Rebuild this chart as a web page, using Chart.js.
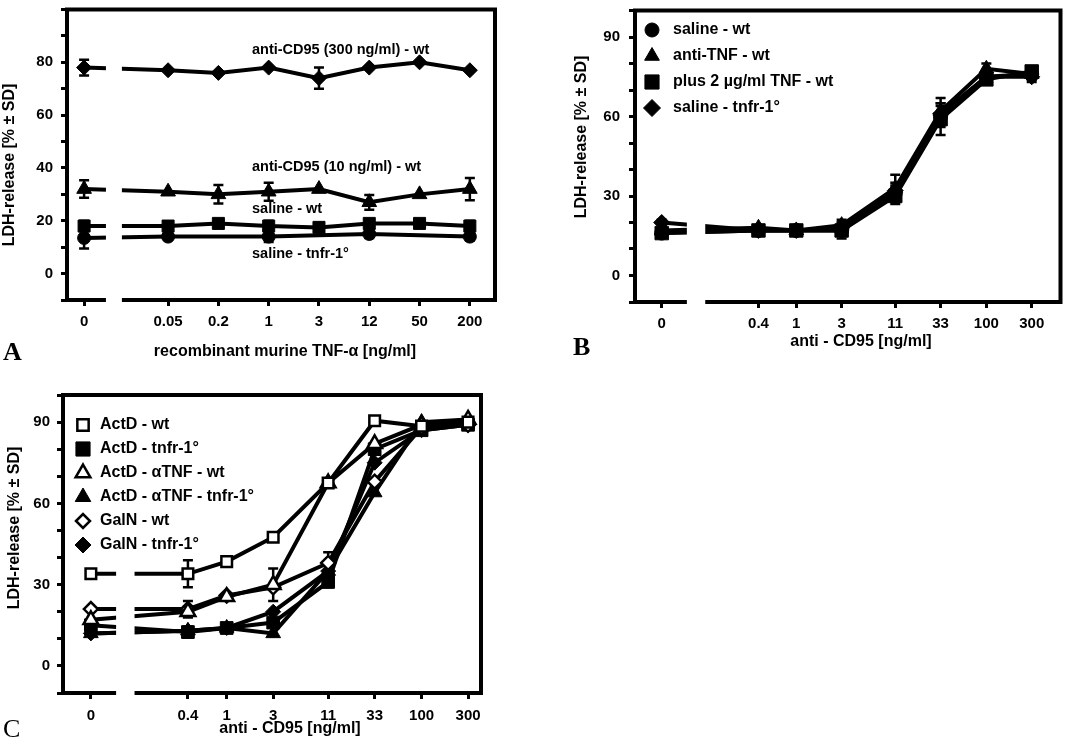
<!DOCTYPE html>
<html>
<head>
<meta charset="utf-8">
<script src="https://cdn.jsdelivr.net/npm/chart.js@4.4.1/dist/chart.umd.min.js"></script>
<style>
  body { margin: 0; background: #fff; width: 1071px; height: 747px; position: relative; overflow: hidden; }
  canvas { position: absolute; }
  #cA { left: 0; top: 0; }
  #cB { left: 540px; top: 0; }
  #cC { left: 0; top: 380px; }
</style>
</head>
<body>
<canvas id="cA" width="530" height="370"></canvas>
<canvas id="cB" width="531" height="370"></canvas>
<canvas id="cC" width="540" height="367"></canvas>
<script>
// ---- data ----
// panel A: x = recombinant murine TNF-alpha [ng/ml]
const dosesA = ['0', '0.05', '0.2', '1', '3', '12', '50', '200'];
const aCd95_300 = [78, 77, 76, 78, 74, 78, 80, 77];
const aCd95_300Sd = [3, 0, 0, 0, 4, 0, 0, 0];
const aCd95_10 = [32, 31, 30, 31, 32, 27, 30, 32];
const aCd95_10Sd = [3.3, 0, 3.5, 3.4, 0, 2.8, 0, 4.2];
const aSalineWt = [18, 18, 19, 18, 17.5, 19, 19, 18];
const aSalineWtSd = [2, 1.5, 0, 2, 0, 1.5, 0, 2];
const aSalineTnfr = [13.5, 14, null, 14, null, 15, null, 14];
const aSalineTnfrSd = [4, 1, 0, 2, 0, 1.5, 0, 1.5];

// panels B and C: x = anti-CD95 [ng/ml]
const dosesCD95 = [0, 0.4, 1, 3, 11, 33, 100, 300];
const cd95Labels = ['0', '0.4', '1', '3', '11', '33', '100', '300'];

const bSalineWt = [16, 17, 17, 17, 31, 60, 75, 76];
const bSalineWtSd = [1, 1, 1, 2, 3, 4, 2, 2];
const bAntiTnf = [17, 18, 17, 19, 33, 62, 78, 76];
const bAntiTnfSd = [1, 1, 1, 2, 5, 5, 2, 2];
const bPlusTnf = [16, 17, 17, 17, 30, 59, 74, 77];
const bPlusTnfSd = [1, 1, 1, 3, 3, 6, 2, 2];
const bSalineTnfr = [20, 17, 17, 18, 32, 61, 75, 75];
const bSalineTnfrSd = [1, 1, 1, 2, 3, 4, 2, 2];

const cActdWt = [34, 34, 38.5, 47.5, 67.5, 90.5, 88.5, 90];
const cActdWtSd = [0, 5, 0, 0, 0, 0, 0, 0];
const cActdTnfr = [15, 12.5, 14, 16, 31, 80, 87, 89];
const cActdTnfrSd = [2, 2, 0, 0, 2, 0, 0, 0];
const cAtnfWt = [17, 20, 25.5, 30, 67.5, 82, 89, 91];
const cAtnfWtSd = [0, 2, 0, 6, 0, 0, 0, 0];
const cAtnfTnfr = [12, 13, 14, 12, 35, 64, 90, 91];
const cAtnfTnfrSd = [0, 0, 0, 0, 0, 0, 0, 0];
const cGalnWt = [21, 21, 26, 29, 38, 68, 88, 89];
const cGalnWtSd = [0, 3, 0, 0, 4, 0, 0, 0];
const cGalnTnfr = [12, 13, 14, 20, 35, 75, 87, 89];
const cGalnTnfrSd = [0, 0, 0, 0, 0, 0, 0, 0];

// ---- axis layout (broken axis between 0 and first dose) ----
const ZERO_GAP_A = 1.67;      // slots between "0" and "0.05"
const ZERO_POS_CD95_B = -1.416; // log10 position used for dose 0
const ZERO_POS_CD95_C = -1.394;
const BREAK = [0.26, 0.45];   // fraction of the way from 0 to first dose

const xA = dosesA.map((d, i) => i === 0 ? 0 : ZERO_GAP_A + i - 1);
const xB = dosesCD95.map(d => d === 0 ? ZERO_POS_CD95_B : Math.log10(d));
const xC = dosesCD95.map(d => d === 0 ? ZERO_POS_CD95_C : Math.log10(d));

const FONT = '"Liberation Sans", Arial, Helvetica, sans-serif';
const tickFont = { family: FONT, size: 15, weight: 'bold' };
const gridOpts = { drawOnChartArea: false, drawTicks: true, tickLength: 6, tickWidth: 3, tickColor: '#000', color: '#000' };

function ser(xs, vals, sd, style, r, open) {
  return {
    data: vals.map((v, i) => ({ x: xs[i], y: v })),
    sd: sd,
    borderColor: '#000',
    borderWidth: 4,
    pointStyle: style,
    pointRadius: r,
    pointHoverRadius: r,
    pointBackgroundColor: open ? '#fff' : '#000',
    pointBorderColor: '#000',
    pointBorderWidth: open ? 2.5 : 1,
    spanGaps: true,
    fill: false,
    tension: 0
  };
}

function marker(ctx, style, r, x, y, open) {
  ctx.save();
  ctx.fillStyle = open ? '#fff' : '#000';
  ctx.strokeStyle = '#000';
  ctx.lineWidth = open ? 2.5 : 1;
  Chart.helpers.drawPoint(ctx, { pointStyle: style, radius: r, borderWidth: ctx.lineWidth, rotation: 0 }, x, y);
  ctx.restore();
}

function text(ctx, t, x, y, font, align, rot) {
  ctx.save();
  ctx.fillStyle = '#000';
  ctx.font = font;
  ctx.textAlign = align || 'left';
  ctx.textBaseline = 'middle';
  ctx.translate(x, y);
  if (rot) ctx.rotate(rot);
  ctx.fillText(t, 0, 0);
  ctx.restore();
}

function deco(o) {
  return {
    id: 'deco',
    beforeDatasetsDraw(chart) {
      const ctx = chart.ctx, ys = chart.scales.y;
      ctx.save();
      ctx.strokeStyle = '#000';
      ctx.lineWidth = 2.5;
      chart.data.datasets.forEach((ds, di) => {
        const meta = chart.getDatasetMeta(di);
        ds.sd.forEach((e, i) => {
          const v = ds.data[i].y;
          if (!e || v == null) return;
          const px = meta.data[i].x;
          const t = ys.getPixelForValue(v + e), b = ys.getPixelForValue(v - e);
          ctx.beginPath();
          ctx.moveTo(px, t); ctx.lineTo(px, b);
          ctx.moveTo(px - 5, t); ctx.lineTo(px + 5, t);
          ctx.moveTo(px - 5, b); ctx.lineTo(px + 5, b);
          ctx.stroke();
        });
      });
      ctx.restore();
    },
    afterDatasetsDraw(chart) {
      const ctx = chart.ctx, a = chart.chartArea, xs = chart.scales.x;
      const p0 = xs.getPixelForValue(o.xs[0]), p1 = xs.getPixelForValue(o.xs[1]);
      const b0 = p0 + BREAK[0] * (p1 - p0), b1 = p0 + BREAK[1] * (p1 - p0);
      ctx.save();
      ctx.fillStyle = '#fff';
      ctx.fillRect(b0, a.top, b1 - b0, a.bottom - a.top + 4);
      ctx.strokeStyle = '#000';
      ctx.lineWidth = 4;
      ctx.lineJoin = 'miter';
      ctx.beginPath();
      ctx.moveTo(b0, a.bottom);
      ctx.lineTo(a.left, a.bottom);
      ctx.lineTo(a.left, a.top);
      ctx.lineTo(a.right, a.top);
      ctx.lineTo(a.right, a.bottom);
      ctx.lineTo(b1, a.bottom);
      ctx.stroke();
      ctx.restore();
    },
    afterDraw(chart) {
      const ctx = chart.ctx;
      const titleFont = 'bold 16px ' + FONT;
      text(ctx, o.xTitle[0], o.xTitle[1], o.xTitle[2], titleFont, 'center');
      text(ctx, 'LDH-release [% \u00b1 SD]', o.yTitle[0], o.yTitle[1], titleFont, 'center', -Math.PI / 2);
      text(ctx, o.letter[0], o.letter[1], o.letter[2], o.letter[3], 'left');
      (o.notes || []).forEach(n => text(ctx, n[0], n[1], n[2], 'bold 14.5px ' + FONT, 'left'));
      if (o.legend) {
        const L = o.legend;
        L.items.forEach((it, i) => {
          const y = L.y + i * L.dy;
          marker(ctx, it.style, it.r, L.x, y, it.open);
          text(ctx, it.label, L.tx, y, 'bold 16px ' + FONT, 'left');
        });
      }
    }
  };
}

function makeChart(id, o) {
  return new Chart(document.getElementById(id), {
    type: 'line',
    data: { datasets: o.datasets },
    options: {
      responsive: false,
      animation: false,
      devicePixelRatio: 1,
      layout: { padding: o.pad },
      plugins: { legend: { display: false }, tooltip: { enabled: false } },
      scales: {
        x: {
          type: 'linear', min: o.xMin, max: o.xMax,
          afterFit: s => { s.height = o.xH; s.paddingLeft = 0; s.paddingRight = 0; },
          afterBuildTicks: s => { s.ticks = o.xs.map(v => ({ value: v })); },
          ticks: { autoSkip: false, maxRotation: 0, padding: o.xTickPad, color: '#000', font: tickFont,
                   callback: (v, i) => o.xLabels[i] },
          grid: gridOpts,
          border: { display: false }
        },
        y: {
          type: 'linear', min: -10, max: 100,
          afterFit: s => { s.width = o.yW; s.paddingTop = 0; s.paddingBottom = 0; },
          ticks: { stepSize: 10, padding: o.yTickPad, color: '#000', font: tickFont,
                   callback: v => (v >= 0 && v <= o.yTop && v % o.yStep === 0) ? String(v) : '' },
          grid: gridOpts,
          border: { display: false }
        }
      }
    },
    plugins: [deco(o)]
  });
}

// ---- panel A ----
makeChart('cA', {
  xs: xA, xLabels: dosesA, xMin: -0.34, xMax: 8.17,
  pad: { left: 0, top: 8, right: 35, bottom: 0 }, yW: 67, xH: 70, xTickPad: 7, yTickPad: 8,
  yTop: 80, yStep: 20,
  xTitle: ['recombinant murine TNF-\u03b1 [ng/ml]', 285, 352],
  yTitle: [10, 165],
  letter: ['A', 3, 353, 'bold 26px "Liberation Serif", serif'],
  notes: [
    ['anti-CD95 (300 ng/ml) - wt', 252, 50],
    ['anti-CD95 (10 ng/ml) - wt', 252, 167],
    ['saline - wt', 252, 209],
    ['saline - tnfr-1\u00b0', 252, 254]
  ],
  datasets: [
    ser(xA, aCd95_300, aCd95_300Sd, 'rectRot', 7.5, false),
    ser(xA, aCd95_10, aCd95_10Sd, 'triangle', 8.5, false),
    ser(xA, aSalineWt, aSalineWtSd, 'rect', 8.5, false),
    ser(xA, aSalineTnfr, aSalineTnfrSd, 'circle', 6.5, false)
  ]
});

// ---- panel B ----
makeChart('cB', {
  xs: xB, xLabels: cd95Labels, xMin: -1.697, xMax: 2.78,
  pad: { left: 0, top: 3, right: 5, bottom: 0 }, yW: 95, xH: 68, xTickPad: 7, yTickPad: 9,
  yTop: 90, yStep: 30,
  xTitle: ['anti - CD95 [ng/ml]', 321, 342],
  yTitle: [42, 137],
  letter: ['B', 33, 348, 'bold 26px "Liberation Serif", serif'],
  legend: {
    x: 112, tx: 133, y: 30, dy: 26,
    items: [
      { label: 'saline - wt', style: 'circle', r: 7, open: false },
      { label: 'anti-TNF - wt', style: 'triangle', r: 8.5, open: false },
      { label: 'plus 2 \u00b5g/ml TNF - wt', style: 'rect', r: 10, open: false },
      { label: 'saline - tnfr-1\u00b0', style: 'rectRot', r: 8.5, open: false }
    ]
  },
  datasets: [
    ser(xB, bSalineWt, bSalineWtSd, 'circle', 7, false),
    ser(xB, bAntiTnf, bAntiTnfSd, 'triangle', 8.5, false),
    ser(xB, bPlusTnf, bPlusTnfSd, 'rect', 9.5, false),
    ser(xB, bSalineTnfr, bSalineTnfrSd, 'rectRot', 8, false)
  ]
});

// ---- panel C ----
makeChart('cC', {
  xs: xC, xLabels: cd95Labels, xMin: -1.68, xMax: 2.61,
  pad: { left: 0, top: 15, right: 59, bottom: 0 }, yW: 63, xH: 54, xTickPad: 8, yTickPad: 7,
  yTop: 90, yStep: 30,
  xTitle: ['anti - CD95 [ng/ml]', 290, 349],
  yTitle: [15, 148],
  letter: ['C', 3, 350, '26px "Liberation Serif", serif'],
  legend: {
    x: 83, tx: 100, y: 45, dy: 24,
    items: [
      { label: 'ActD - wt', style: 'rect', r: 8, open: true },
      { label: 'ActD - tnfr-1\u00b0', style: 'rect', r: 10, open: false },
      { label: 'ActD - \u03b1TNF - wt', style: 'triangle', r: 8.5, open: true },
      { label: 'ActD - \u03b1TNF - tnfr-1\u00b0', style: 'triangle', r: 9, open: false },
      { label: 'GalN - wt', style: 'rectRot', r: 7, open: true },
      { label: 'GalN - tnfr-1\u00b0', style: 'rectRot', r: 8, open: false }
    ]
  },
  datasets: [
    ser(xC, cActdWt, cActdWtSd, 'rect', 7.5, true),
    ser(xC, cAtnfWt, cAtnfWtSd, 'triangle', 8.5, true),
    ser(xC, cGalnWt, cGalnWtSd, 'rectRot', 7, true),
    ser(xC, cActdTnfr, cActdTnfrSd, 'rect', 9, false),
    ser(xC, cAtnfTnfr, cAtnfTnfrSd, 'triangle', 8.5, false),
    ser(xC, cGalnTnfr, cGalnTnfrSd, 'rectRot', 7.5, false)
  ]
});
</script>
</body>
</html>
